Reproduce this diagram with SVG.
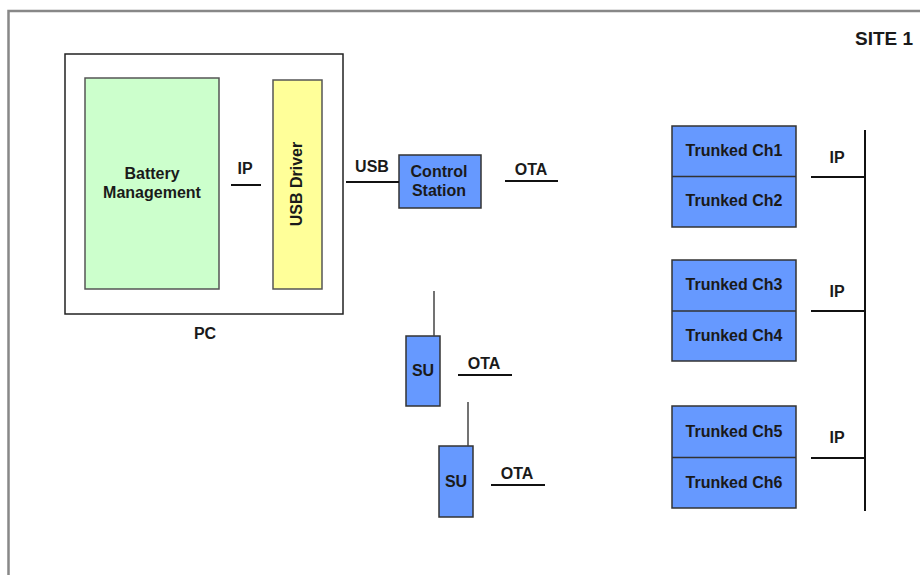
<svg xmlns="http://www.w3.org/2000/svg" width="920" height="575" viewBox="0 0 920 575">
<style>
text{font-family:"Liberation Sans",Arial,sans-serif;font-weight:bold;font-size:16px;fill:#1a1a1a;text-anchor:middle}
.big{font-size:19px}
.blue{fill:#6699ff;stroke:#333;stroke-width:1.5}
.ln{stroke:#111;stroke-width:2;fill:none}
.ant{stroke:#444;stroke-width:1.5;fill:none}
</style>
<rect width="920" height="575" fill="#fff"/>
<path d="M8.5,575 V11 H920" fill="none" stroke="#888" stroke-width="2.5"/>
<text x="884" y="45" class="big">SITE 1</text>
<g id="pc">
<rect x="65" y="54" width="278" height="260" fill="#fff" stroke="#222" stroke-width="1.5"/>
<text x="205" y="339">PC</text>
</g>
<g id="battery">
<rect x="85" y="78" width="134" height="211" fill="#ccffcc" stroke="#555" stroke-width="1.5"/>
<text x="152" y="179">Battery</text>
<text x="152" y="198">Management</text>
</g>
<g id="usbdriver">
<rect x="273" y="80" width="49" height="209" fill="#ffff99" stroke="#555" stroke-width="1.5"/>
<text transform="translate(302,184) rotate(-90)">USB Driver</text>
</g>
<g id="control">
<rect x="399" y="155" width="82" height="53" class="blue"/>
<text x="439" y="177">Control</text>
<text x="439" y="196">Station</text>
</g>
<g id="su1">
<rect x="406" y="336" width="34" height="70" class="blue"/>
<text x="423" y="376">SU</text>
</g>
<g id="su2">
<rect x="439" y="446" width="34" height="71" class="blue"/>
<text x="456" y="487">SU</text>
</g>
<g id="trunk12">
<rect x="672" y="126" width="124" height="101" class="blue"/>
<line x1="672" y1="176.5" x2="796" y2="176.5" stroke="#333" stroke-width="1.5"/>
<text x="734" y="156">Trunked Ch1</text>
<text x="734" y="206">Trunked Ch2</text>
</g>
<g id="trunk34">
<rect x="672" y="260" width="124" height="101" class="blue"/>
<line x1="672" y1="311" x2="796" y2="311" stroke="#333" stroke-width="1.5"/>
<text x="734" y="290">Trunked Ch3</text>
<text x="734" y="341">Trunked Ch4</text>
</g>
<g id="trunk56">
<rect x="672" y="406" width="124" height="102" class="blue"/>
<line x1="672" y1="457.5" x2="796" y2="457.5" stroke="#333" stroke-width="1.5"/>
<text x="734" y="437">Trunked Ch5</text>
<text x="734" y="488">Trunked Ch6</text>
</g>
<g id="connectors">
<line x1="231" y1="185" x2="261" y2="185" class="ln"/>
<text x="245" y="174">IP</text>
<line x1="346" y1="182" x2="399" y2="182" class="ln"/>
<text x="372" y="172">USB</text>
<line x1="505" y1="181" x2="558" y2="181" class="ln"/>
<text x="531" y="175">OTA</text>
<line x1="434" y1="291" x2="434" y2="336" class="ant"/>
<line x1="458" y1="375" x2="512" y2="375" class="ln"/>
<text x="484" y="369">OTA</text>
<line x1="468" y1="402" x2="468" y2="446" class="ant"/>
<line x1="491" y1="485" x2="545" y2="485" class="ln"/>
<text x="517" y="479">OTA</text>
<line x1="865" y1="130" x2="865" y2="511" class="ln"/>
<line x1="811" y1="177" x2="865" y2="177" class="ln"/>
<text x="837" y="163">IP</text>
<line x1="811" y1="311" x2="865" y2="311" class="ln"/>
<text x="837" y="297">IP</text>
<line x1="811" y1="458" x2="865" y2="458" class="ln"/>
<text x="837" y="443">IP</text>
</g>
</svg>
